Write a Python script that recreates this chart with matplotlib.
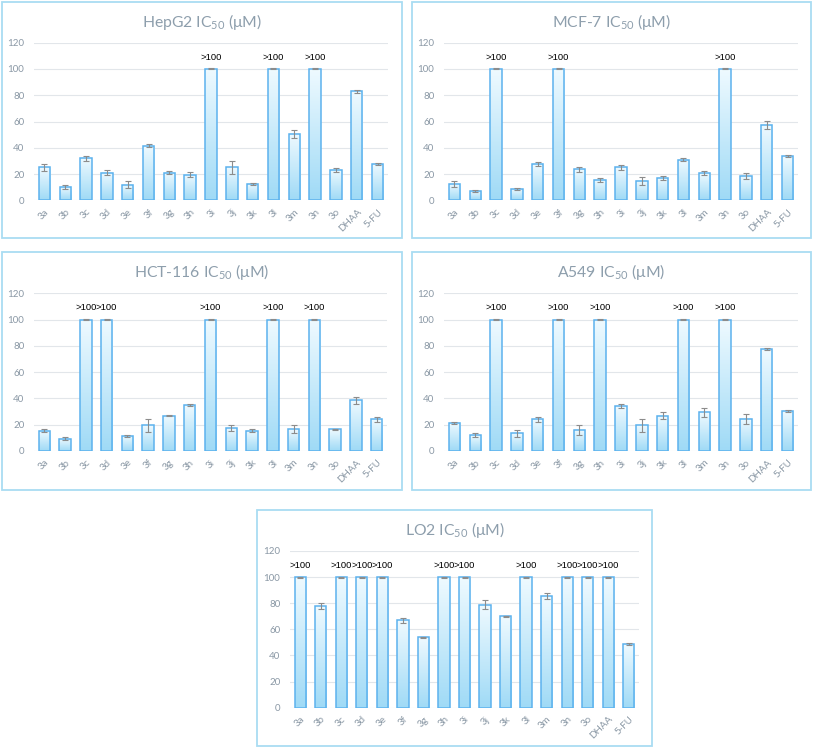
import numpy as np
import matplotlib
matplotlib.use("Agg")
import matplotlib.pyplot as plt
from matplotlib.patches import Rectangle
from matplotlib.colors import LinearSegmentedColormap

plt.rcParams['font.family'] = ['Lato', 'DejaVu Sans']
plt.rcParams['mathtext.default'] = 'regular'

# compounds on the x axis (same for every panel)
compounds = ['3a', '3b', '3c', '3d', '3e', '3f', '3g', '3h', '3i', '3j', '3k',
             '3l', '3m', '3n', '3o', 'DHAA', '5-FU']

# IC50 values (uM), 100 means ">100"
hepg2 = [25, 10, 32, 21, 12, 41.5, 21, 19.5, 100, 25, 12.5, 100, 50.5, 100, 23, 83, 27.5]
hepg2_err = [3, 1.5, 2, 2, 2.5, 1, 1, 2, 0.4, 5, 1, 0.4, 3, 0.4, 1.5, 1, 0.7]

mcf7 = [12.5, 7, 100, 8.5, 27.5, 100, 23.5, 15.5, 25, 14.5, 17, 31, 20.5, 100, 18.5, 57.5, 33.5]
mcf7_err = [2.5, 1, 0.4, 0.7, 1.5, 0.4, 2, 1.5, 2, 3, 1.5, 1, 1.5, 0.4, 2, 3, 0.7]

hct116 = [15.5, 9.5, 100, 100, 11.5, 19.5, 27, 35, 100, 17.5, 15.5, 100, 16.5, 100, 16.5, 38.5, 24]
hct116_err = [1, 1, 0.4, 0.4, 1, 5, 0.7, 1, 0.4, 2, 1, 0.4, 3, 0.4, 0.5, 2.5, 2]

a549 = [21.5, 12, 100, 13.5, 24, 100, 16, 100, 34, 19.5, 27, 100, 29.5, 100, 24.5, 77.5, 30.5]
a549_err = [0.7, 1.5, 0.4, 2.5, 2, 0.4, 3.5, 0.4, 1.5, 5, 3, 0.4, 3.5, 0.4, 4, 1, 0.5]

lo2 = [100, 78, 100, 100, 100, 67, 54, 100, 100, 79, 70, 100, 85.5, 100, 100, 100, 49]
lo2_err = [0.4, 2.5, 0.4, 0.4, 0.4, 2, 0.5, 0.4, 0.4, 3.5, 0.5, 0.4, 2.5, 0.4, 0.4, 0.4, 0.7]

W, H = 813, 749
fig = plt.figure(figsize=(W / 100, H / 100), dpi=100)

cmap = LinearSegmentedColormap.from_list('barfill', ['#9fdaf6', '#effaff'])
grad = np.linspace(0, 1, 256).reshape(-1, 1)

title_col = '#8d9eac'
tick_col = '#8a98a5'


def panel(frame, plot, title, vals, errs):
    # frame = (x0, y0, x1, y1) pixels, plot = (x0, x1, y120, y0) pixels
    fx0, fy0, fx1, fy1 = frame
    fig.add_artist(Rectangle((fx0 / W, 1 - fy1 / H), (fx1 - fx0) / W, (fy1 - fy0) / H,
                             transform=fig.transFigure, fill=False,
                             edgecolor='#a9dcf2', linewidth=1.3))
    px0, px1, y120, y0 = plot
    ax = fig.add_axes([px0 / W, 1 - y0 / H, (px1 - px0) / W, (y0 - y120) / H])
    x = np.arange(len(compounds))
    bars = ax.bar(x, vals, width=0.55, facecolor='none', edgecolor='#5cb2ee',
                  linewidth=1.1, zorder=3)
    for rect in bars:
        bx, bw, bh = rect.get_x(), rect.get_width(), rect.get_height()
        ax.imshow(grad, extent=[bx, bx + bw, 0, bh], origin='lower', cmap=cmap,
                  aspect='auto', zorder=2, clip_path=rect, clip_on=True)
    ax.errorbar(x, vals, yerr=errs, fmt='none', ecolor='#8c8c8c', elinewidth=0.8,
                capsize=2.2, capthick=0.8, zorder=4)
    for xi, v in zip(x, vals):
        if v >= 100:
            ax.text(xi, 109, '>100', ha='center', va='center', fontsize=6.8,
                    color='black', family=['Liberation Sans', 'DejaVu Sans'])
    ax.set_xlim(-0.5, len(compounds) - 0.5)
    ax.set_ylim(0, 120)
    ax.set_yticks(range(0, 121, 20))
    ax.set_xticks(x)
    ax.set_xticklabels(compounds, rotation=45, ha='right', rotation_mode='anchor')
    ax.tick_params(axis='both', length=0, labelsize=7, colors=tick_col)
    ax.tick_params(axis='y', pad=7)
    ax.tick_params(axis='x', pad=5)
    ax.grid(axis='y', color='#e2e6ea', linewidth=0.8, zorder=0)
    ax.set_axisbelow(True)
    for s in ax.spines.values():
        s.set_visible(False)
    ax.set_facecolor('none')
    fig.text((fx0 + fx1) / 2 / W, 1 - (fy0 + 19.5) / H, title, ha='center', va='center',
             fontsize=11.3, color=title_col)


panel((2, 2, 402, 238), (34, 388, 42.7, 200.3), 'HepG2 IC$_{50}$ (μM)', hepg2, hepg2_err)
panel((412, 2, 811, 238), (444, 798, 42.7, 200.3), 'MCF-7 IC$_{50}$ (μM)', mcf7, mcf7_err)
panel((2, 252, 402, 490), (34, 387, 293.3, 451), 'HCT-116 IC$_{50}$ (μM)', hct116, hct116_err)
panel((412, 252, 811, 490), (444, 798, 293.3, 451), 'A549 IC$_{50}$ (μM)', a549, a549_err)
panel((257, 510, 652, 746), (290, 639, 551, 707.7), 'LO2 IC$_{50}$ (μM)', lo2, lo2_err)

fig.savefig('out.png', dpi=100)
